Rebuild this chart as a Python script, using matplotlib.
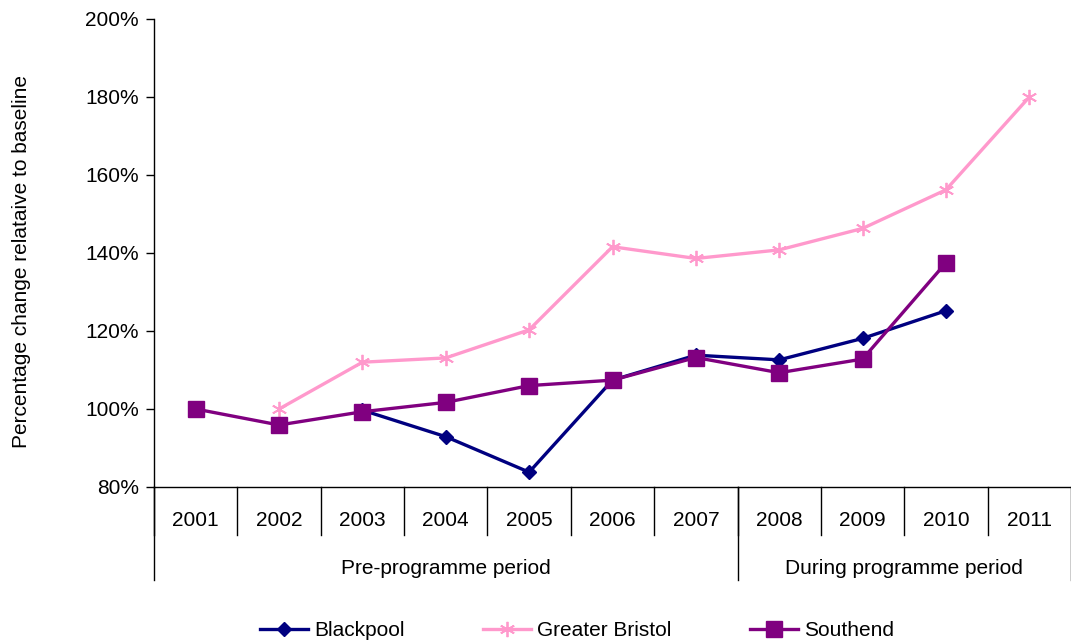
import matplotlib
matplotlib.use("Agg")
import matplotlib.pyplot as plt
import numpy as np

plt.rcParams['font.family'] = ['Liberation Sans', 'DejaVu Sans']

years = ['2001', '2002', '2003', '2004', '2005', '2006', '2007', '2008', '2009', '2010', '2011']
periods = ['Pre-programme period', 'During programme period']
period_lengths = [7, 4]

blackpool = [None, None, 99.7, 92.9, 83.8, 107.4, 113.8, 112.6, 118.1, 125.2, None]
bristol = [None, 100.0, 112.0, 113.1, 120.3, 141.6, 138.6, 140.8, 146.3, 156.2, 180.0]
southend = [100.0, 95.9, 99.3, 101.7, 106.0, 107.4, 113.2, 109.3, 112.8, 137.5, None]

y_ticks = [80, 100, 120, 140, 160, 180, 200]


def to_array(vals):
    return np.array([np.nan if v is None else v for v in vals], dtype=float)


FS = 15
W, H = 1071, 644
fig = plt.figure(figsize=(W / 100, H / 100), dpi=100)
left, right, top, bottom = 154, 1071, 19, 487
ax = fig.add_axes([left / W, 1 - bottom / H, (right - left) / W, (bottom - top) / H])

x = np.arange(1, len(years) + 1)
ax.plot(x, to_array(blackpool), color='#000080', lw=2.4, marker='D', ms=7,
        label='Blackpool')
ax.plot(x, to_array(bristol), color='#FF99CC', lw=2.4, marker=(6, 2, 0), ms=11,
        mew=1.3, label='Greater Bristol')
ax.plot(x, to_array(southend), color='#800080', lw=2.4, marker='s', ms=11,
        label='Southend')

ax.set_xlim(0.5, len(years) + 0.5)
ax.set_ylim(80, 200)
ax.set_yticks(y_ticks)
ax.set_yticklabels([f'{v}%' for v in y_ticks], fontsize=FS)
ax.tick_params(axis='y', direction='out', length=6, width=1, pad=5)
ax.set_xticks([])

for s in ['top', 'right']:
    ax.spines[s].set_visible(False)
for s in ['left', 'bottom']:
    ax.spines[s].set_linewidth(1)

fig.text(22 / W, 1 - 262 / H, 'Percentage change relataive to baseline', rotation=90,
         ha='center', va='center', fontsize=FS)

# multi-level category axis
ph = bottom - top
sep_short = -(535 - bottom) / ph
sep_long = -(580 - bottom) / ph
tr = ax.get_xaxis_transform()
for i in range(len(years)):
    edge = 0.5 + i
    ax.plot([edge, edge], [0, sep_short], color='black', lw=1, transform=tr, clip_on=False)
    ax.text(i + 1, -(521 - bottom) / ph, years[i], transform=tr, ha='center', va='center',
            fontsize=FS)
start = 0.5
for name, n in zip(periods, period_lengths):
    ax.plot([start, start], [0, sep_long], color='black', lw=1, transform=tr, clip_on=False)
    ax.text(start + n / 2, -(568 - bottom) / ph, name, transform=tr, ha='center',
            va='center', fontsize=FS)
    start += n
ax.plot([start, start], [0, sep_long], color='black', lw=1, transform=tr, clip_on=False)

handles, labels = ax.get_legend_handles_labels()
fig.legend(handles, labels, loc='center', bbox_to_anchor=(0.539, 1 - 631 / H), ncol=3,
           frameon=False, fontsize=FS, handlelength=2.3, columnspacing=3.75,
           handletextpad=0.3)

fig.savefig('out.png', dpi=100)
